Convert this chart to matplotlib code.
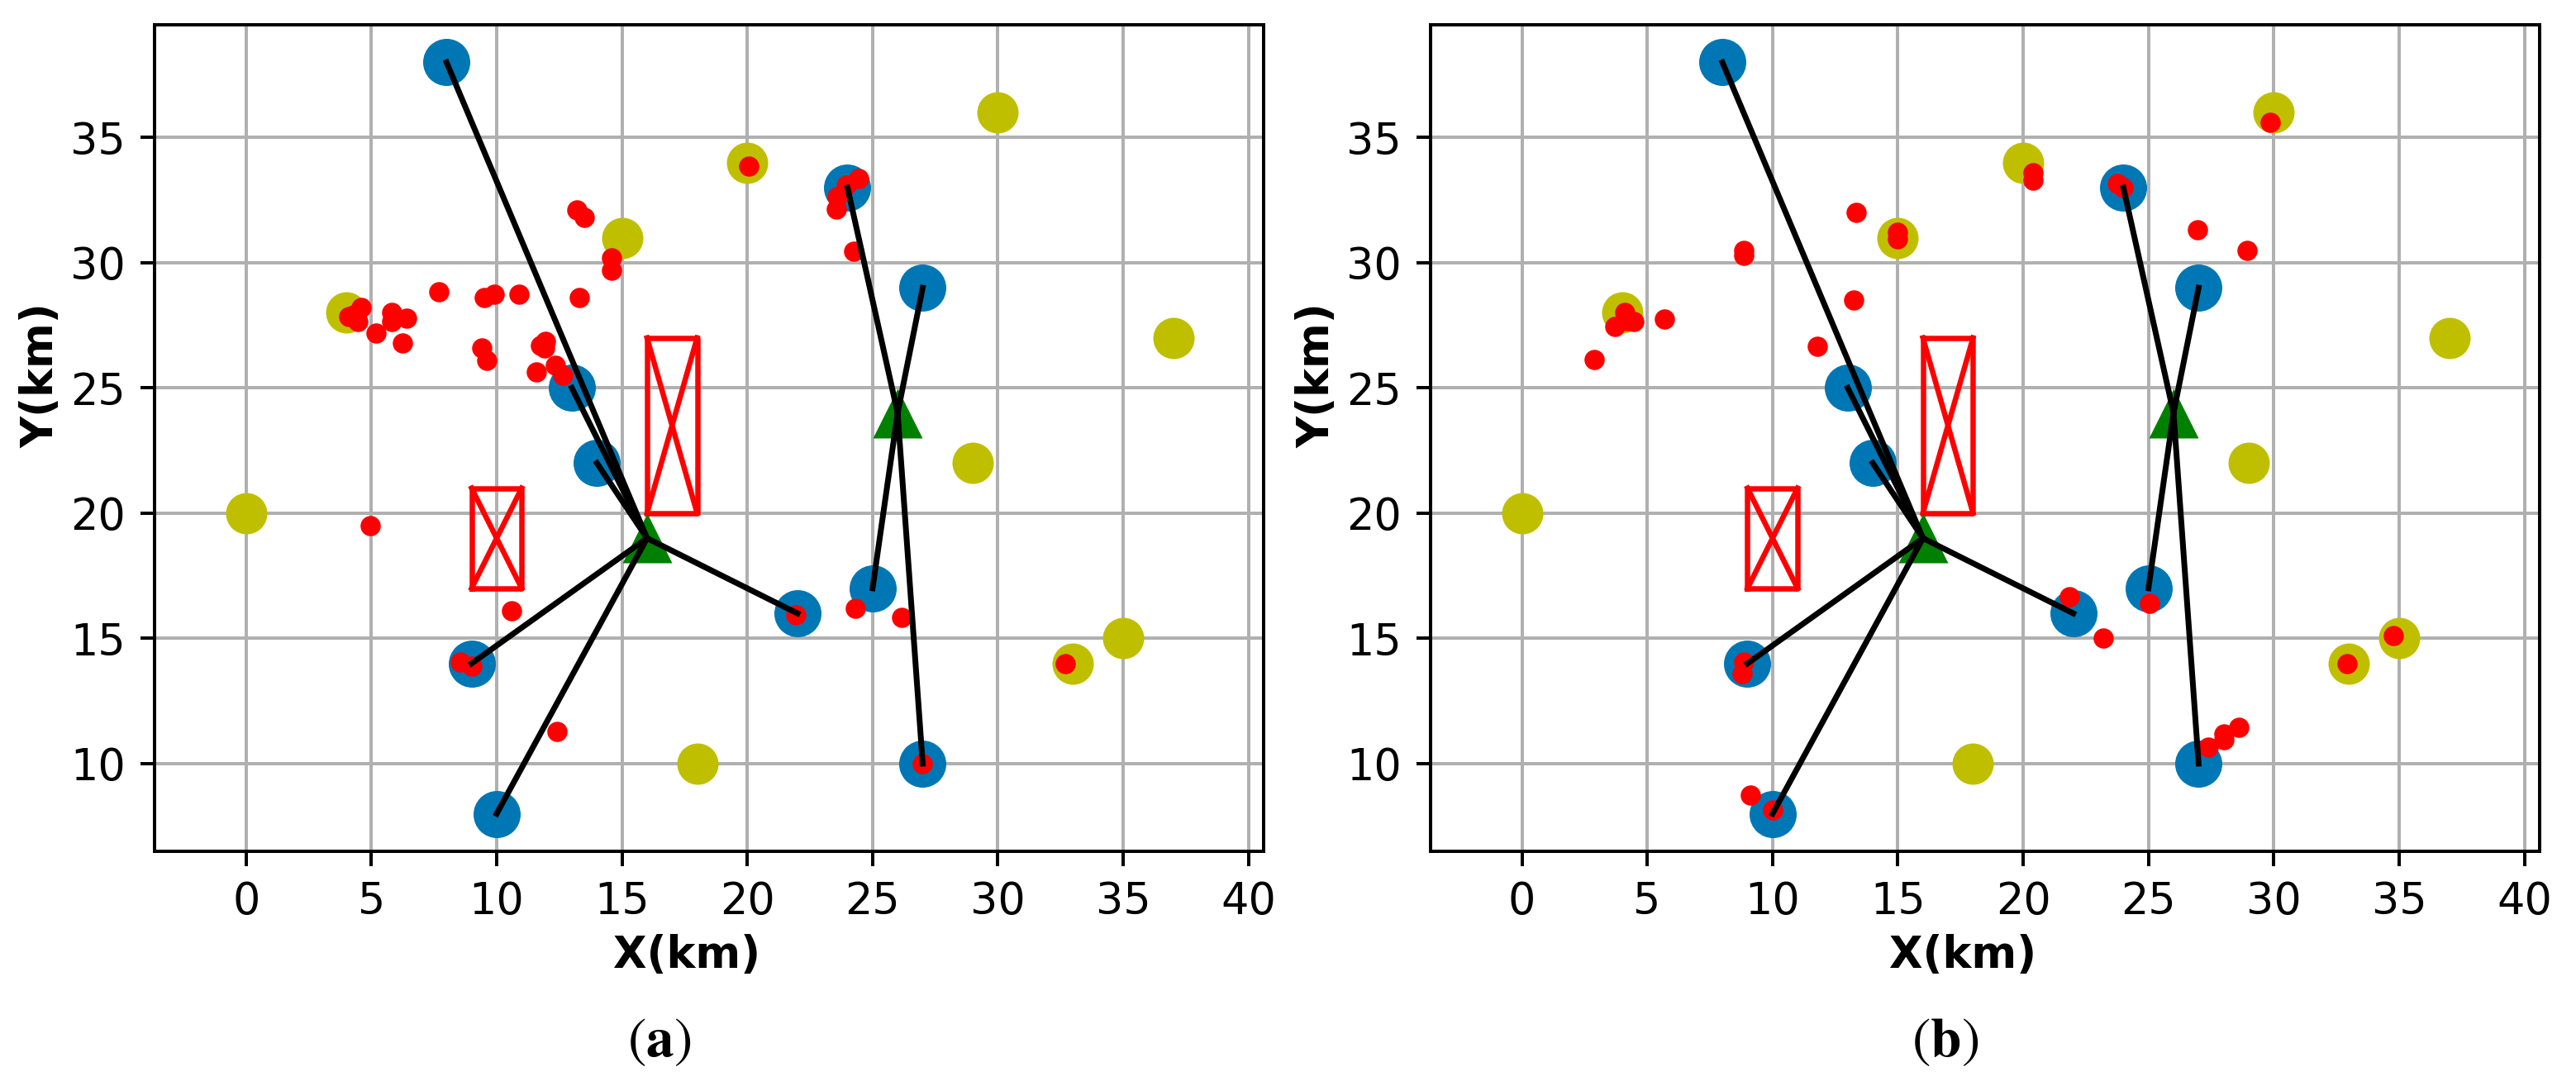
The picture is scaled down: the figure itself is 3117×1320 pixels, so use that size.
import matplotlib
matplotlib.use('Agg')
import matplotlib.pyplot as plt

plt.rcParams['mathtext.fontset'] = 'stix'

# candidate sites (yellow) and selected sites (blue)
yellow_x = [0, 4, 15, 20, 30, 37, 29, 33, 35, 18]
yellow_y = [20, 28, 31, 34, 36, 27, 22, 14, 15, 10]
blue_x = [8, 13, 14, 9, 10, 22, 24, 27, 25, 27]
blue_y = [38, 25, 22, 14, 8, 16, 33, 29, 17, 10]

# hubs (green triangles) and which blue sites hang on them
hub_x = [16, 26]
hub_y = [19, 24]
hub_links = [[0, 1, 2, 3, 4, 5], [6, 7, 8, 9]]

# forbidden zones (x0, y0, x1, y1)
zones = [(9, 17, 11, 21), (16, 20, 18, 27)]

# demand points, panel (a)
red_a_x = [13.2, 13.5, 14.6, 14.6, 7.7, 9.5, 9.9, 10.9, 13.3, 4.1, 4.6, 4.45, 4.3,
           5.8, 5.8, 6.4, 5.2, 6.25, 9.4, 9.6, 11.75, 11.95, 11.9, 11.6, 12.35, 12.65,
           4.95, 20.05, 24.45, 23.95, 23.6, 23.55, 24.25, 10.6, 8.55, 9.0, 21.95,
           24.3, 26.15, 32.7, 12.4, 27.0]
red_a_y = [32.1, 31.8, 30.2, 29.7, 28.85, 28.6, 28.75, 28.75, 28.6, 27.85, 28.2, 27.65, 27.9,
           28.0, 27.65, 27.8, 27.2, 26.8, 26.6, 26.1, 26.7, 26.85, 26.6, 25.65, 25.9, 25.5,
           19.5, 33.85, 33.35, 33.1, 32.65, 32.15, 30.45, 16.1, 14.05, 13.9, 15.95,
           16.2, 15.85, 14.0, 11.3, 10.0]

# demand points, panel (b)
red_b_x = [13.35, 15.0, 15.0, 8.85, 8.85, 13.25, 4.1, 4.45, 3.7, 4.2, 5.7, 2.9, 11.8,
           21.85, 25.05, 23.2, 8.85, 8.8, 9.1, 10.0, 27.4, 28.0, 28.0, 28.6, 32.93,
           29.85, 20.4, 20.4, 23.75, 24.0, 26.95, 28.95, 34.78]
red_b_y = [32.0, 31.2, 30.95, 30.5, 30.3, 28.5, 28.0, 27.65, 27.45, 27.7, 27.75, 26.15, 26.65,
           16.65, 16.4, 15.0, 14.05, 13.6, 8.75, 8.15, 10.65, 11.2, 10.95, 11.45, 14.0,
           35.6, 33.6, 33.3, 33.15, 33.0, 31.3, 30.5, 15.1]

x_ticks = list(range(0, 41, 5))
y_ticks = list(range(10, 36, 5))


def draw(ax, rx, ry):
    ax.set_axisbelow(True)
    ax.grid(True)
    ax.scatter(yellow_x, yellow_y, s=100, c='y', linewidths=0, zorder=2)
    ax.scatter(blue_x, blue_y, s=130, c='#0077b5', linewidths=0, zorder=2)
    ax.scatter(rx, ry, s=24, c='r', linewidths=0, zorder=3)
    for x0, y0, x1, y1 in zones:
        ax.plot([x0, x1, x1, x0, x0], [y0, y0, y1, y1, y0], 'r-', lw=1.3, zorder=3)
        ax.plot([x0, x1], [y0, y1], 'r-', lw=1.3, zorder=3)
        ax.plot([x0, x1], [y1, y0], 'r-', lw=1.3, zorder=3)
    ax.scatter(hub_x, hub_y, marker='^', s=144, c='g', linewidths=0, zorder=4)
    for h in range(len(hub_x)):
        for i in hub_links[h]:
            ax.plot([hub_x[h], blue_x[i]], [hub_y[h], blue_y[i]], 'k-', lw=1.4, zorder=5)
    ax.set_xlim(-3.65, 40.6)
    ax.set_ylim(6.5, 39.5)
    ax.set_xticks(x_ticks)
    ax.set_yticks(y_ticks)
    ax.tick_params(labelsize=10.5)
    ax.set_xlabel('X(km)', fontweight='bold', fontsize=10.5)
    ax.set_ylabel('Y(km)', fontweight='bold', fontsize=10.5)
    ax.xaxis.set_label_coords(0.48, -0.1)
    ax.yaxis.set_label_coords(-0.083, 0.576)


fig = plt.figure(figsize=(3117 / 360, 1320 / 360), dpi=360)
ax_a = fig.add_axes([0.0600, 0.2197, 0.4305, 0.7576])
ax_b = fig.add_axes([0.5553, 0.2197, 0.4305, 0.7576])
draw(ax_a, red_a_x, red_a_y)
draw(ax_b, red_b_x, red_b_y)

fig.text(0.256, 0.044, r'($\mathbf{a}$)', ha='center', va='center', fontsize=13.5, family='STIXGeneral')
fig.text(0.755, 0.044, r'($\mathbf{b}$)', ha='center', va='center', fontsize=13.5, family='STIXGeneral')

fig.savefig('out.png', dpi=360)
